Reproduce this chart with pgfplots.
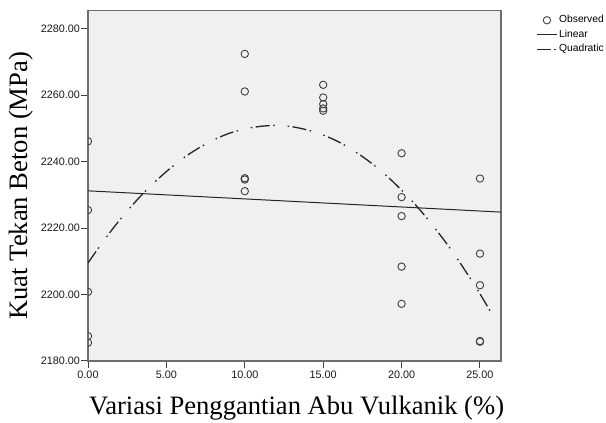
\documentclass[border=0pt]{standalone}
\usepackage{fontspec}
\setmainfont{Liberation Serif}
\newfontfamily\arialfont{Liberation Sans}
\usepackage{pgfplots}
\pgfplotsset{compat=1.18}
\definecolor{bgc}{HTML}{F0F0F0}
\definecolor{mk}{HTML}{404040}
\definecolor{framec}{HTML}{6E6E6E}
\pgfplotsset{
  legline/.style={legend image code/.code={\draw[##1] (0pt,0pt) -- (20pt,0pt);}},
  legmark/.style={legend image code/.code={\draw[mark repeat=2,mark phase=2,##1] plot coordinates {(0pt,0pt)(10pt,0pt)(20pt,0pt)};}},
}
\begin{document}
\begin{tikzpicture}
\begin{axis}[
  at={(88pt,62pt)}, anchor=south west,
  scale only axis, width=413pt, height=350.3pt,
  xmin=0, xmax=26.34, ymin=2180, ymax=2285.4,
  xtick={0,5,10,15,20,25}, ytick={2180,2200,2220,2240,2260,2280},
  axis background/.style={fill=bgc},
  axis line style={draw=framec, line width=1.1pt},
  tick align=outside, major tick length=7pt, tick pos=left,
  tick style={draw=black!75, line width=1pt},
  ticklabel style={font=\arialfont\fontsize{10.8}{12}\selectfont, text=black!90},
  yticklabel style={inner sep=1pt},
  xticklabel style={inner sep=3pt},
  /pgf/number format/fixed, /pgf/number format/fixed zerofill,
  /pgf/number format/precision=2, /pgf/number format/1000 sep={},
  /pgf/number format/assume math mode=true,
  xlabel={Variasi Penggantian Abu Vulkanik (\%)},
  ylabel={Kuat Tekan Beton (MPa)},
  label style={font=\fontsize{26.6}{30}\selectfont},
  xlabel style={at={(axis description cs:0.505,-0.154)}, anchor=base},
  ylabel style={at={(axis description cs:-0.147,0.5)}, anchor=base},
  clip marker paths=true,
  legend cell align=left,
  legend style={draw=none, fill=none, at={(axis description cs:1.085,0.994)}, anchor=north west,
    font=\arialfont\fontsize{10.3}{12}\selectfont, column sep=0.5pt, row sep=0pt, inner sep=0pt,
    nodes={inner sep=1pt, text height=9pt, text depth=3.5pt}},
]
\addplot[only marks, mark=o, color=mk, mark size=3.7pt, mark options={line width=0.9pt}, legmark]
  coordinates {
  (0,2246.1) (0,2225.4) (0,2200.8) (0,2187.5) (0,2185.5)
  (10,2272.4) (10,2261.1) (10,2235.0) (10,2234.6) (10,2231.1)
  (15,2263.1) (15,2259.3) (15,2257.3) (15,2256.0) (15,2255.3)
  (20,2242.5) (20,2229.3) (20,2223.6) (20,2208.4) (20,2197.2)
  (25,2234.9) (25,2212.3) (25,2202.8) (25,2186.0) (25,2185.8)
  };
\addplot[draw=black!85, line width=1pt, legline]
  coordinates {(0,2231.2) (26.34,2224.8)};
\addplot[draw=black!85, line width=1.3pt, smooth,
  dash pattern=on 14pt off 3.5pt on 1.5pt off 13pt on 1.5pt off 3.5pt, legline]
  coordinates {
  (0,2209.5) (1,2216.2) (2,2222.3) (3,2227.8) (4,2232.7) (5,2237.0)
  (6,2240.8) (7,2243.9) (8,2246.5) (9,2248.5) (10,2249.8) (11,2250.6)
  (12,2250.9) (13,2250.5) (14,2249.5) (15,2248.0) (16,2245.9) (17,2243.1)
  (18,2239.8) (19,2235.9) (20,2231.4) (21,2226.4) (22,2220.7) (23,2214.5)
  (24,2207.6) (25,2200.2) (25.96,2192.5)
  };
\legend{Observed, Linear, Quadratic}
\end{axis}
\pgfresetboundingbox
\useasboundingbox (0,0) rectangle (606pt,423pt);
\end{tikzpicture}
\end{document}
